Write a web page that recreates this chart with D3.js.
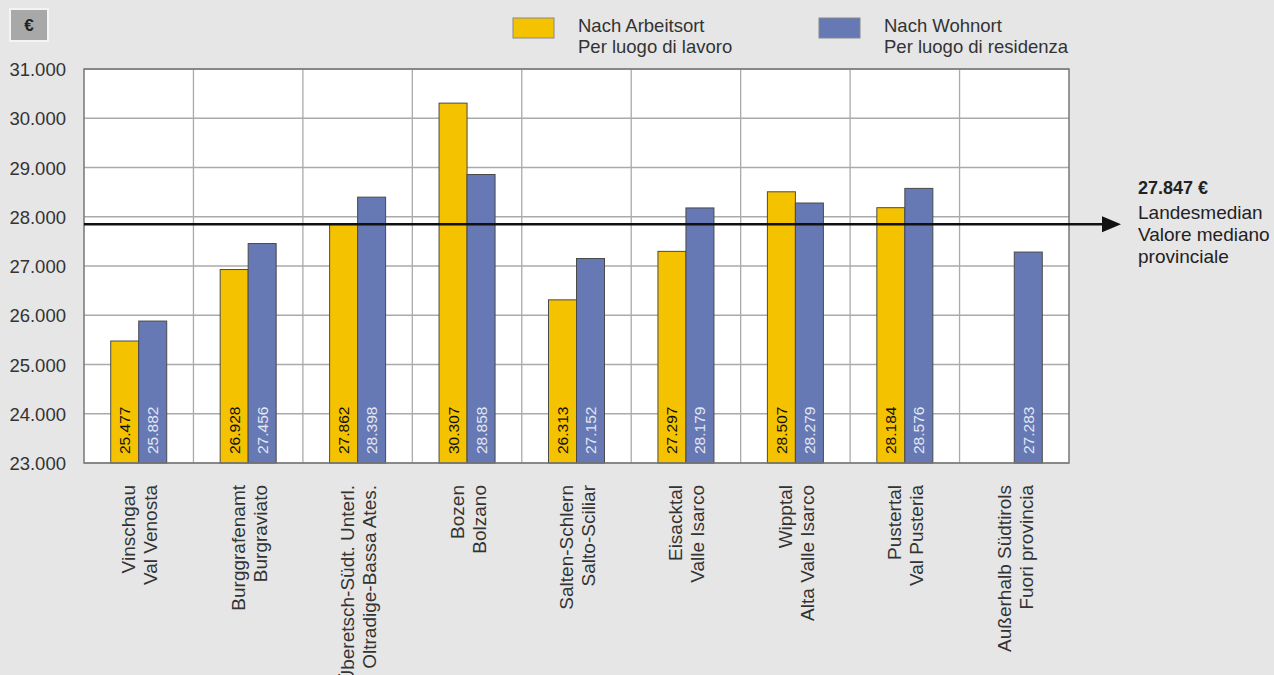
<!DOCTYPE html>
<html><head><meta charset="utf-8">
<script src="https://cdn.jsdelivr.net/npm/d3@7"></script>
<style>
html,body{margin:0;padding:0;background:#e6e6e6;}
svg{display:block;font-family:"Liberation Sans",Arial,sans-serif;}
</style></head>
<body><svg id="c" width="1274" height="675"></svg>
<script>
const categoriesDe = ["Vinschgau","Burggrafenamt","Überetsch-Südt. Unterl.","Bozen","Salten-Schlern","Eisacktal","Wipptal","Pustertal","Außerhalb Südtirols"];
const categoriesIt = ["Val Venosta","Burgraviato","Oltradige-Bassa Ates.","Bolzano","Salto-Sciliar","Valle Isarco","Alta Valle Isarco","Val Pusteria","Fuori provincia"];
const workValues = [25477, 26928, 27862, 30307, 26313, 27297, 28507, 28184, null];
const residenceValues = [25882, 27456, 28398, 28858, 27152, 28179, 28279, 28576, 27283];
const yTicks = [23000,24000,25000,26000,27000,28000,29000,30000,31000];
const median = 27847;
const seriesNames = [["Nach Arbeitsort","Per luogo di lavoro"],["Nach Wohnort","Per luogo di residenza"]];
const medianLabel = ["27.847 €","Landesmedian","Valore mediano","provinciale"];

const colors = ["#f5c200","#6679b4"];
const svg = d3.select("#c");
const m = {l:84, r:1069, t:69, b:463};
const fmt = v => d3.format(",")(v).replace(/,/g,".");

const x = d3.scaleBand().domain(d3.range(categoriesDe.length)).range([m.l,m.r]).padding(0);
const y = d3.scaleLinear().domain([23000,31000]).range([m.b,m.t]);
const barW = 28;

// plot background
svg.append("rect").attr("x",m.l).attr("y",m.t).attr("width",m.r-m.l).attr("height",m.b-m.t).attr("fill","#fff");

// horizontal gridlines
svg.append("g").selectAll("line").data(yTicks).join("line")
  .attr("x1",m.l).attr("x2",m.r).attr("y1",d=>y(d)).attr("y2",d=>y(d))
  .attr("stroke","#aaa").attr("stroke-width",1.3);
// vertical gridlines
svg.append("g").selectAll("line").data(d3.range(1,categoriesDe.length)).join("line")
  .attr("x1",d=>x(d)).attr("x2",d=>x(d)).attr("y1",m.t).attr("y2",m.b)
  .attr("stroke","#aaa").attr("stroke-width",1.3);

// y labels
svg.append("g").selectAll("text").data(yTicks).join("text")
  .attr("x",66).attr("y",d=>y(d)+7).attr("text-anchor","end")
  .attr("font-size",18.5).attr("fill","#333").text(d=>fmt(d));

// bars
const series = [workValues, residenceValues];
series.forEach((vals,s)=>{
  const g = svg.append("g");
  const data = vals.map((v,i)=>({v,i})).filter(d=>d.v!=null);
  g.selectAll("rect").data(data).join("rect")
    .attr("x",d=>x(d.i)+x.bandwidth()/2 - barW + s*barW)
    .attr("y",d=>y(d.v)).attr("width",barW).attr("height",d=>y(23000)-y(d.v))
    .attr("fill",colors[s]).attr("stroke","#4a4a4a").attr("stroke-width",1);
  g.selectAll("text").data(data).join("text")
    .attr("transform",d=>`translate(${x(d.i)+x.bandwidth()/2 - barW/2 + s*barW + 5.5},454) rotate(-90)`)
    .attr("font-size",15.5).attr("fill",s===0?"#111":"#e3e7f2").text(d=>fmt(d.v));
});

// plot border
svg.append("rect").attr("x",m.l).attr("y",m.t).attr("width",m.r-m.l).attr("height",m.b-m.t)
  .attr("fill","none").attr("stroke","#777").attr("stroke-width",1.5);

// median line with arrow
svg.append("line").attr("x1",m.l).attr("x2",1104).attr("y1",y(median)).attr("y2",y(median))
  .attr("stroke","#111").attr("stroke-width",2.5);
svg.append("path").attr("d",`M1102,${y(median)-8} L1121,${y(median)} L1102,${y(median)+8} Z`).attr("fill","#111");
const medY = [194, 219, 241, 263];
svg.append("g").selectAll("text").data(medianLabel).join("text")
  .attr("x",1138).attr("y",(d,i)=>medY[i])
  .attr("font-size",(d,i)=>i===0?18:19).attr("font-weight",(d,i)=>i===0?"bold":"normal").attr("fill","#222").text(d=>d);

// x labels
const xl = svg.append("g");
categoriesDe.forEach((c,i)=>{
  const cx = x(i)+x.bandwidth()/2;
  xl.append("text").attr("transform",`translate(${cx-3.5},485) rotate(-90)`).attr("text-anchor","end")
    .attr("font-size",19).attr("fill","#333").text(c);
  xl.append("text").attr("transform",`translate(${cx+18.5},485) rotate(-90)`).attr("text-anchor","end")
    .attr("font-size",19).attr("fill","#333").text(categoriesIt[i]);
});

// legend
const legX = [513, 819];
seriesNames.forEach((n,s)=>{
  svg.append("rect").attr("x",legX[s]).attr("y",18).attr("width",41).attr("height",20)
    .attr("fill",colors[s]).attr("stroke","#888").attr("stroke-width",1);
  svg.append("text").attr("x",legX[s]+65).attr("y",32).attr("font-size",18.5).attr("fill","#333").text(n[0]);
  svg.append("text").attr("x",legX[s]+65).attr("y",53).attr("font-size",18.5).attr("fill","#333").text(n[1]);
});

// euro box
svg.append("rect").attr("x",10).attr("y",9).attr("width",38).attr("height",32)
  .attr("fill","#a8a8a8").attr("stroke","#f4f4f4").attr("stroke-width",2);
svg.append("text").attr("x",29).attr("y",31).attr("text-anchor","middle").attr("font-size",17)
  .attr("font-weight","bold").attr("fill","#222").text("€");
</script></body></html>
